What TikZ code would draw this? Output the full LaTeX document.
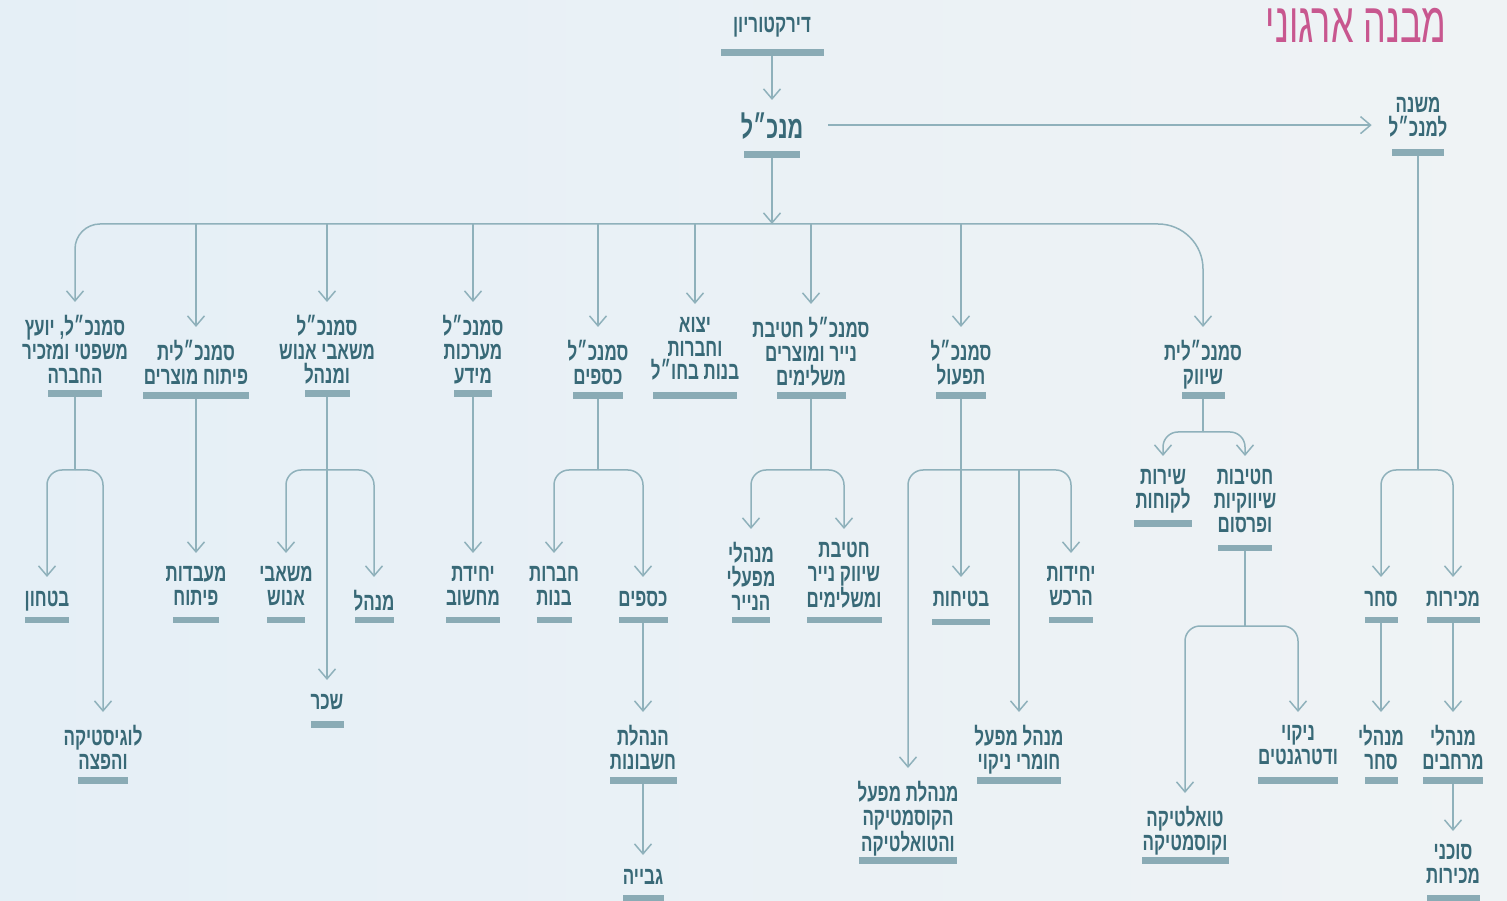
\documentclass[tikz,border=0pt]{standalone}
\usepackage{fontspec}
\usetikzlibrary{arrows.meta}
\TeXXeTstate=1
\newfontfamily\hebfont[Script=Hebrew,FakeStretch=0.68]{Liberation Sans}
\newfontfamily\titlefont[Script=Hebrew,FakeStretch=0.64]{Liberation Sans}
\definecolor{orgtext}{HTML}{386977}
\definecolor{orgbar}{HTML}{8AABB5}
\definecolor{orgline}{HTML}{8FB1BB}
\definecolor{orgtitle}{HTML}{C8578F}
\definecolor{bgleft}{HTML}{E5EFF6}
\definecolor{bgright}{HTML}{EFF3F5}

\newcommand{\heb}[1]{\beginR#1\endR}
% text block with its bar underneath
\newcommand{\orgunit}[6]{%
  \node[unittext] (#1) at (#2,#3-22) {#6};
  \node[unitbar, minimum width=#5*0.2mm] (#1-b) at (#2,#4) {};
}

\begin{document}
\begin{tikzpicture}[
  x=0.02cm, y=-0.02cm,
  unittext/.style={font=\hebfont\bfseries\fontsize{14.2}{13.6}\selectfont, text=orgtext, align=center, anchor=north, inner sep=0pt, outer xsep=0pt, outer ysep=2.6mm, execute at begin node=\strut},
  unitbar/.style={fill=orgbar, minimum height=1.4mm, inner sep=0pt, outer sep=0pt},
  link/.style={draw=orgline, line width=0.3mm},
  arr/.style={link, -{Straight Barb[length=2mm,width=3.4mm]}},
  splitarr/.style={arr, rounded corners=3mm}]

\useasboundingbox (0,0) rectangle (1507,901);
\shade[left color=bgleft, right color=bgright] (0,0) rectangle (1507,901);

\node[font=\titlefont\fontsize{32}{36}\selectfont, text=orgtitle, anchor=east, inner sep=0pt] (title) at (1447,25) {\heb{מבנה ארגוני}};

% top
\orgunit{board}{772}{25}{53}{103}{\heb{דירקטוריון}}
\node[unittext, font=\hebfont\bfseries\fontsize{18}{20}\selectfont] (ceo) at (772,125-25) {\heb{מנכ״ל}};
\node[unitbar, minimum width=56*0.2mm] (ceo-b) at (772,155) {};
\orgunit{dep}{1418}{106}{153}{52}{\heb{משנה}\\\heb{למנכ״ל}}

% second level
\orgunit{legal}{75}{324}{394}{54}{\heb{סמנכ״ל, יועץ}\\\heb{משפטי ומזכיר}\\\heb{החברה}}
\orgunit{rnd}{196}{349}{396}{107}{\heb{סמנכ״לית}\\\heb{פיתוח מוצרים}}
\orgunit{hr}{327}{324}{394}{45}{\heb{סמנכ״ל}\\\heb{משאבי אנוש}\\\heb{ומנהל}}
\orgunit{it}{473}{324}{394}{38}{\heb{סמנכ״ל}\\\heb{מערכות}\\\heb{מידע}}
\orgunit{cfo}{598}{349}{396}{50}{\heb{סמנכ״ל}\\\heb{כספים}}
\orgunit{export}{695}{326}{396}{84}{\heb{יצוא}\\\heb{וחברות}\\\heb{בנות בחו״ל}}
\orgunit{paper}{811}{326}{396}{69}{\heb{סמנכ״ל חטיבת}\\\heb{נייר ומוצרים}\\\heb{משלימים}}
\orgunit{ops}{961}{349}{396}{50}{\heb{סמנכ״ל}\\\heb{תפעול}}
\orgunit{mkt}{1203}{349}{396}{43}{\heb{סמנכ״לית}\\\heb{שיווק}}

% third level and below
\orgunit{security}{47}{599}{620}{45}{\heb{בטחון}}
\orgunit{logistics}{103}{734}{780}{50}{\heb{לוגיסטיקה}\\\heb{והפצה}}
\orgunit{labs}{196}{575}{620}{46}{\heb{מעבדות}\\\heb{פיתוח}}
\orgunit{hrops}{286}{575}{620}{38}{\heb{משאבי}\\\heb{אנוש}}
\orgunit{admin}{374}{599}{620}{39}{\heb{מנהל}}
\orgunit{payroll}{327}{702}{724}{33}{\heb{שכר}}
\orgunit{computing}{473}{575}{620}{54}{\heb{יחידת}\\\heb{מחשוב}}
\orgunit{subs}{554}{575}{620}{35}{\heb{חברות}\\\heb{בנות}}
\orgunit{finance}{643}{599}{620}{49}{\heb{כספים}}
\orgunit{accounting}{643}{734}{780}{67}{\heb{הנהלת}\\\heb{חשבונות}}
\orgunit{collection}{643}{877}{898}{41}{\heb{גבייה}}
\orgunit{millmgr}{751}{551}{620}{38}{\heb{מנהלי}\\\heb{מפעלי}\\\heb{הנייר}}
\orgunit{papermkt}{844}{551}{620}{75}{\heb{חטיבת}\\\heb{שיווק נייר}\\\heb{ומשלימים}}
\orgunit{safety}{961}{599}{622}{58}{\heb{בטיחות}}
\orgunit{cosmetplant}{908}{790}{860}{98}{\heb{מנהלת מפעל}\\\heb{הקוסמטיקה}\\\heb{והטואלטיקה}}
\orgunit{cleanplant}{1019}{734}{780}{84}{\heb{מנהל מפעל}\\\heb{חומרי ניקוי}}
\orgunit{purchasing}{1071}{575}{620}{44}{\heb{יחידות}\\\heb{הרכש}}
\orgunit{service}{1163}{478}{524}{58}{\heb{שירות}\\\heb{לקוחות}}
\orgunit{mktdiv}{1245}{478}{548}{54}{\heb{חטיבות}\\\heb{שיווקיות}\\\heb{ופרסום}}
\orgunit{toilet}{1185}{815}{860}{87}{\heb{טואלטיקה}\\\heb{וקוסמטיקה}}
\orgunit{detergent}{1298}{734}{780}{80}{\heb{ניקוי}\\\heb{ודטרגנטים}}
\orgunit{trade}{1381}{599}{620}{33}{\heb{סחר}}
\orgunit{sales}{1453}{599}{620}{53}{\heb{מכירות}}
\orgunit{trademgr}{1381}{734}{780}{33}{\heb{מנהלי}\\\heb{סחר}}
\orgunit{regionmgr}{1453}{734}{780}{60}{\heb{מנהלי}\\\heb{מרחבים}}
\orgunit{agents}{1453}{853}{898}{53}{\heb{סוכני}\\\heb{מכירות}}

% connectors from the top
\draw[arr] (board-b.south) -- (ceo.north);
\draw[arr] ([xshift=5mm,yshift=1.2mm]ceo.east) -- ([xshift=-3.4mm,yshift=1.2mm]ceo.east -| dep.west);
\coordinate (hub) at (772,224);
\draw[arr] (ceo-b.south) -- (hub);
\draw[arr, rounded corners=5mm] (hub) -| (legal.north);
\draw[arr, rounded corners=9mm] (hub) -| (mkt.north);
\foreach \n in {rnd,hr,it,cfo,export,paper,ops}
  \draw[arr] (\n.north |- hub) -- (\n.north);

% legal
\coordinate (jlegal) at (75,470);
\draw[link] (legal-b.south) -- (jlegal);
\draw[splitarr] (jlegal) -| (security.north);
\draw[splitarr] (jlegal) -| (logistics.north);

% r&d, it
\draw[arr] (rnd-b.south) -- (labs.north);
\draw[arr] (it-b.south) -- (computing.north);

% hr
\coordinate (jhr) at (327,470);
\draw[arr] (hr-b.south) -- (payroll.north);
\draw[splitarr] (jhr) -| (hrops.north);
\draw[splitarr] (jhr) -| (admin.north);

% finance
\coordinate (jcfo) at (598,470);
\draw[link] (cfo-b.south) -- (jcfo);
\draw[splitarr] (jcfo) -| (subs.north);
\draw[splitarr] (jcfo) -| (finance.north);
\draw[arr] (finance-b.south) -- (accounting.north);
\draw[arr] (accounting-b.south) -- (collection.north);

% paper
\coordinate (jpaper) at (811,470);
\draw[link] (paper-b.south) -- (jpaper);
\draw[splitarr] (jpaper) -| (millmgr.north);
\draw[splitarr] (jpaper) -| (papermkt.north);

% operations
\coordinate (jops) at (961,470);
\draw[arr] (ops-b.south) -- (safety.north);
\draw[splitarr] (jops) -| (cosmetplant.north);
\draw[splitarr] (jops) -| (purchasing.north);
\draw[arr] (cleanplant.north |- jops) -- (cleanplant.north);

% marketing
\coordinate (jmkt) at (1203,432);
\draw[link] (mkt-b.south) -- (jmkt);
\draw[splitarr] (jmkt) -| (service.north);
\draw[splitarr] (jmkt) -| (mktdiv.north);
\coordinate (jmktdiv) at (1245,626);
\draw[link] (mktdiv-b.south) -- (jmktdiv);
\draw[splitarr] (jmktdiv) -| (toilet.north);
\draw[splitarr] (jmktdiv) -| (detergent.north);

% deputy
\coordinate (jdep) at (1418,470);
\draw[link] (dep-b.south) -- (jdep);
\draw[splitarr] (jdep) -| (trade.north);
\draw[splitarr] (jdep) -| (sales.north);
\draw[arr] (trade-b.south) -- (trademgr.north);
\draw[arr] (sales-b.south) -- (regionmgr.north);
\draw[arr] (regionmgr-b.south) -- (agents.north);

\end{tikzpicture}
\end{document}
